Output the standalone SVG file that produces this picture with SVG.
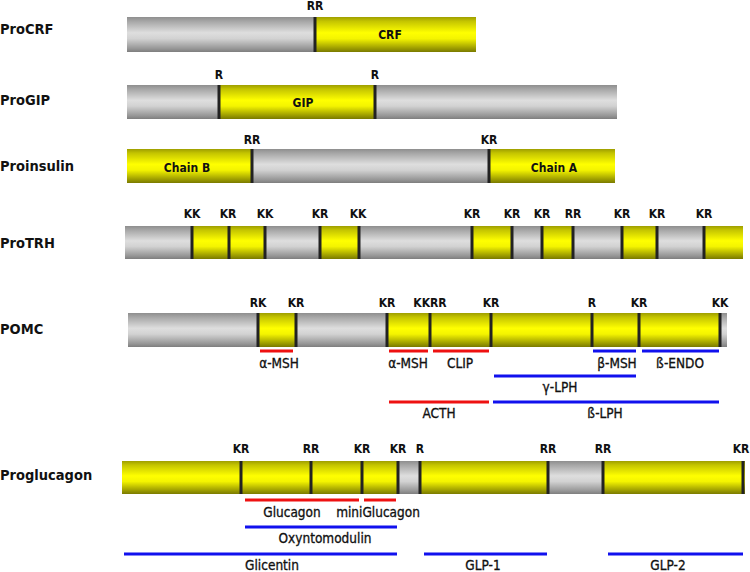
<svg xmlns="http://www.w3.org/2000/svg" width="750" height="572" viewBox="0 0 750 572">
<defs>
<linearGradient id="gG" x1="0" y1="0" x2="0" y2="1">
<stop offset="0" stop-color="#8e8e8e"/><stop offset="0.12" stop-color="#a6a6a6"/><stop offset="0.45" stop-color="#dedede"/><stop offset="0.62" stop-color="#d2d2d2"/><stop offset="0.9" stop-color="#979797"/><stop offset="1" stop-color="#7e7e7e"/>
</linearGradient>
<linearGradient id="yG" x1="0" y1="0" x2="0" y2="1">
<stop offset="0" stop-color="#9e9e00"/><stop offset="0.12" stop-color="#c4c400"/><stop offset="0.45" stop-color="#ffff00"/><stop offset="0.62" stop-color="#f4f400"/><stop offset="0.9" stop-color="#9a9a00"/><stop offset="1" stop-color="#7a7a00"/>
</linearGradient>
<style>
.g{fill:url(#gG)}
.y{fill:url(#yG)}
.d{fill:#222}
.name{font-family:"DejaVu Sans Condensed","DejaVu Sans",sans-serif;font-weight:bold;font-size:14.5px;fill:#111}
.site{font-family:"DejaVu Sans Condensed","DejaVu Sans",sans-serif;font-weight:bold;font-size:12px;fill:#111;text-anchor:middle}
.in{font-family:"DejaVu Sans Condensed","DejaVu Sans",sans-serif;font-weight:bold;font-size:12px;fill:#111;text-anchor:middle}
.pl{font-family:"DejaVu Sans Condensed","DejaVu Sans",sans-serif;font-size:13.5px;fill:#111;stroke:#111;stroke-width:0.3;text-anchor:middle}
.r{stroke:#ee1111;stroke-width:3}
.b{stroke:#1111ee;stroke-width:3}
</style>
</defs>

<g id="ProCRF">
<text class="name" x="0" y="34">ProCRF</text>
<rect class="g" x="127" y="17" width="188" height="35"/>
<rect class="y" x="315" y="17" width="161" height="35"/>
<rect class="d" x="313.5" y="17" width="3" height="35"/>
<text class="site" x="315" y="10">RR</text>
<text class="in" x="390" y="39">CRF</text>
</g>

<g id="ProGIP">
<text class="name" x="0" y="105">ProGIP</text>
<rect class="g" x="127" y="85" width="490" height="34"/>
<rect class="y" x="219" y="85" width="156" height="34"/>
<rect class="d" x="217.5" y="85" width="3" height="34"/>
<rect class="d" x="373.5" y="85" width="3" height="34"/>
<text class="site" x="219" y="79">R</text>
<text class="site" x="375" y="79">R</text>
<text class="in" x="303" y="107">GIP</text>
</g>

<g id="Proinsulin">
<text class="name" x="0" y="171">Proinsulin</text>
<rect class="y" x="127" y="149" width="125" height="34"/>
<rect class="g" x="252" y="149" width="237" height="34"/>
<rect class="y" x="489" y="149" width="126" height="34"/>
<rect class="d" x="250.5" y="149" width="3" height="34"/>
<rect class="d" x="487.5" y="149" width="3" height="34"/>
<text class="site" x="252" y="144">RR</text>
<text class="site" x="489" y="144">KR</text>
<text class="in" x="187" y="172">Chain B</text>
<text class="in" x="554" y="172">Chain A</text>
</g>

<g id="ProTRH">
<text class="name" x="0" y="248">ProTRH</text>
<rect class="g" x="125" y="226" width="618" height="33"/>
<rect class="y" x="192" y="226" width="73" height="33"/>
<rect class="y" x="320" y="226" width="39" height="33"/>
<rect class="y" x="472" y="226" width="40" height="33"/>
<rect class="y" x="542" y="226" width="31" height="33"/>
<rect class="y" x="622" y="226" width="35" height="33"/>
<rect class="y" x="704" y="226" width="39" height="33"/>
<rect class="d" x="190.5" y="226" width="3" height="33"/>
<rect class="d" x="227.5" y="226" width="3" height="33"/>
<rect class="d" x="263.5" y="226" width="3" height="33"/>
<rect class="d" x="318.5" y="226" width="3" height="33"/>
<rect class="d" x="357.5" y="226" width="3" height="33"/>
<rect class="d" x="470.5" y="226" width="3" height="33"/>
<rect class="d" x="510.5" y="226" width="3" height="33"/>
<rect class="d" x="540.5" y="226" width="3" height="33"/>
<rect class="d" x="571.5" y="226" width="3" height="33"/>
<rect class="d" x="620.5" y="226" width="3" height="33"/>
<rect class="d" x="655.5" y="226" width="3" height="33"/>
<rect class="d" x="702.5" y="226" width="3" height="33"/>
<text class="site" x="192" y="218">KK</text>
<text class="site" x="228" y="218">KR</text>
<text class="site" x="265" y="218">KK</text>
<text class="site" x="320" y="218">KR</text>
<text class="site" x="358" y="218">KK</text>
<text class="site" x="472" y="218">KR</text>
<text class="site" x="512" y="218">KR</text>
<text class="site" x="542" y="218">KR</text>
<text class="site" x="573" y="218">RR</text>
<text class="site" x="622" y="218">KR</text>
<text class="site" x="657" y="218">KR</text>
<text class="site" x="704" y="218">KR</text>
</g>

<g id="POMC">
<text class="name" x="0" y="334">POMC</text>
<rect class="g" x="128" y="313" width="599" height="34"/>
<rect class="y" x="258" y="313" width="38" height="34"/>
<rect class="y" x="387" y="313" width="333" height="34"/>
<rect class="d" x="256.5" y="313" width="3" height="34"/>
<rect class="d" x="294.5" y="313" width="3" height="34"/>
<rect class="d" x="385.5" y="313" width="3" height="34"/>
<rect class="d" x="428.5" y="313" width="3" height="34"/>
<rect class="d" x="489.5" y="313" width="3" height="34"/>
<rect class="d" x="590.5" y="313" width="3" height="34"/>
<rect class="d" x="637.5" y="313" width="3" height="34"/>
<rect class="d" x="718.5" y="313" width="3" height="34"/>
<text class="site" x="258" y="307">RK</text>
<text class="site" x="296" y="307">KR</text>
<text class="site" x="387" y="307">KR</text>
<text class="site" x="430" y="307">KKRR</text>
<text class="site" x="491" y="307">KR</text>
<text class="site" x="592" y="307">R</text>
<text class="site" x="639" y="307">KR</text>
<text class="site" x="720" y="307">KK</text>
</g>

<g id="Proglucagon">
<text class="name" x="0" y="480">Proglucagon</text>
<rect class="y" x="122" y="461" width="623" height="33"/>
<rect class="g" x="398" y="461" width="22" height="33"/>
<rect class="g" x="548" y="461" width="55" height="33"/>
<rect class="d" x="239.5" y="461" width="3" height="33"/>
<rect class="d" x="309.5" y="461" width="3" height="33"/>
<rect class="d" x="360.5" y="461" width="3" height="33"/>
<rect class="d" x="396.5" y="461" width="3" height="33"/>
<rect class="d" x="418.5" y="461" width="3" height="33"/>
<rect class="d" x="546.5" y="461" width="3" height="33"/>
<rect class="d" x="601.5" y="461" width="3" height="33"/>
<rect class="d" x="741.5" y="461" width="3" height="33"/>
<text class="site" x="241" y="453">KR</text>
<text class="site" x="311" y="453">RR</text>
<text class="site" x="362" y="453">KR</text>
<text class="site" x="398" y="453">KR</text>
<text class="site" x="420" y="453">R</text>
<text class="site" x="548" y="453">RR</text>
<text class="site" x="603" y="453">RR</text>
<text class="site" x="741" y="453">KR</text>
</g>

<g id="peptides">
<line class="r" x1="260" y1="351" x2="293" y2="351"/>
<line class="r" x1="389" y1="351" x2="428" y2="351"/>
<line class="r" x1="433" y1="351" x2="489" y2="351"/>
<line class="b" x1="593" y1="351" x2="636" y2="351"/>
<line class="b" x1="642" y1="351" x2="719" y2="351"/>
<line class="b" x1="494" y1="376" x2="636" y2="376"/>
<line class="r" x1="389" y1="402" x2="489" y2="402"/>
<line class="b" x1="493" y1="402" x2="719" y2="402"/>
<text class="pl" x="279" y="368">α-MSH</text>
<text class="pl" x="408" y="368">α-MSH</text>
<text class="pl" x="460" y="368">CLIP</text>
<text class="pl" x="617" y="368">β-MSH</text>
<text class="pl" x="680" y="368">ß-ENDO</text>
<text class="pl" x="560" y="392">γ-LPH</text>
<text class="pl" x="439" y="418">ACTH</text>
<text class="pl" x="605" y="418">ß-LPH</text>

<line class="r" x1="245" y1="500" x2="359" y2="500"/>
<line class="r" x1="364" y1="500" x2="396" y2="500"/>
<line class="b" x1="245" y1="527" x2="397" y2="527"/>
<line class="b" x1="124" y1="554" x2="397" y2="554"/>
<line class="b" x1="424" y1="554" x2="547" y2="554"/>
<line class="b" x1="608" y1="554" x2="743" y2="554"/>
<text class="pl" x="292" y="517">Glucagon</text>
<text class="pl" x="378" y="517">miniGlucagon</text>
<text class="pl" x="325" y="543">Oxyntomodulin</text>
<text class="pl" x="272" y="570">Glicentin</text>
<text class="pl" x="483" y="570">GLP-1</text>
<text class="pl" x="668" y="570">GLP-2</text>
</g>
</svg>
